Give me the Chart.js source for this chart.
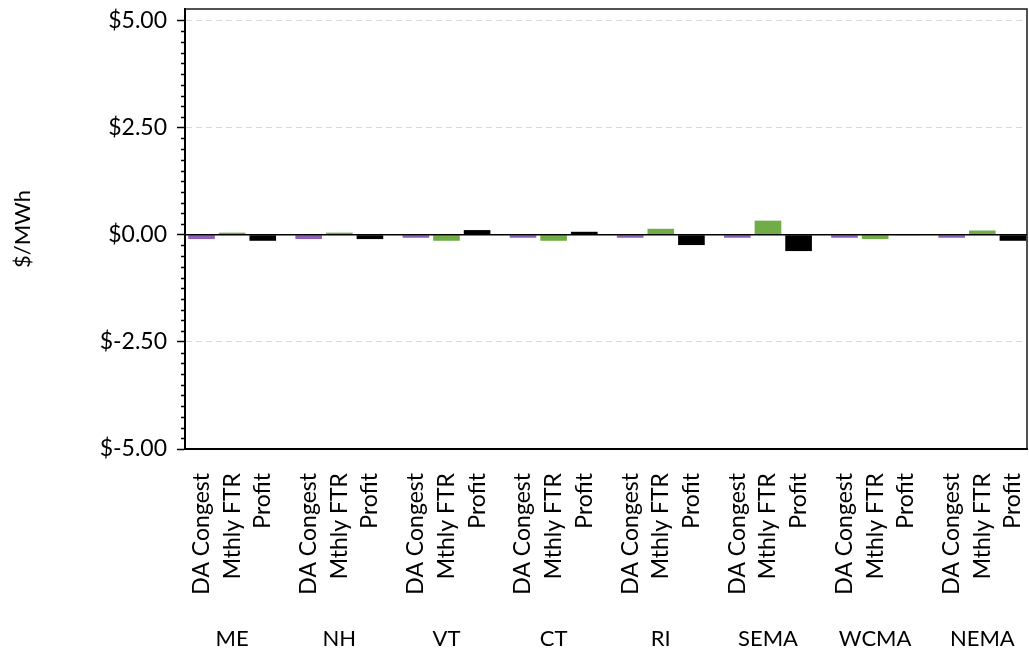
<!DOCTYPE html>
<html>
<head>
<meta charset="utf-8">
<script src="https://cdn.jsdelivr.net/npm/chart.js@4"></script>
<style>
  html, body { margin: 0; padding: 0; background: #fff; }
  #wrap { width: 1029px; height: 653px; }
</style>
</head>
<body>
<div id="wrap"><canvas id="c" width="1029" height="653"></canvas></div>
<script>
// Zones and the three measures shown for each one ($/MWh)
const zones = ['ME', 'NH', 'VT', 'CT', 'RI', 'SEMA', 'WCMA', 'NEMA'];
const measures = ['DA Congest', 'Mthly FTR', 'Profit'];
const daCongest = [-0.10, -0.10, -0.07, -0.07, -0.07, -0.07, -0.07, -0.07];
const mthlyFtr  = [ 0.05,  0.05, -0.14, -0.14,  0.14,  0.33, -0.10,  0.10];
const profit    = [-0.14, -0.10,  0.11,  0.07, -0.24, -0.38, -0.01, -0.14];
const yTicks = [-5, -2.5, 0, 2.5, 5];

const measureColors = ['#8E62B4', '#70AD47', '#000000'];
const FONT = 'Lato, "Open Sans", sans-serif';
const GROUP_STEP = 3.5;   // three bars plus a half-slot gap per zone

// Flatten zones x measures into bar points on a linear x scale
const series = [daCongest, mthlyFtr, profit];
const points = [];
const colors = [];
const barLabels = [];
zones.forEach((z, g) => {
  series.forEach((s, m) => {
    points.push({ x: g * GROUP_STEP + m, y: s[g] });
    colors.push(measureColors[m]);
    barLabels.push(measures[m]);
  });
});
const barPositions = points.map(p => p.x);
const zoneCenters = zones.map((z, g) => g * GROUP_STEP + 1);

Chart.defaults.color = '#000';
Chart.defaults.font.family = FONT;

// keep tick-label overhang from shrinking the plot area
function noOverhang(scale) {
  scale.paddingLeft = 0;
  scale.paddingRight = 0;
  scale.paddingTop = 0;
  scale.paddingBottom = 0;
}

// Plot frame, zero line and minor y ticks
const framePlugin = {
  id: 'frame',
  afterDatasetsDraw(chart) {
    const { ctx, chartArea: a, scales } = chart;
    const y = scales.y;
    ctx.save();
    // zero line
    const y0 = y.getPixelForValue(0);
    ctx.strokeStyle = '#000';
    ctx.lineWidth = 1.6;
    ctx.beginPath();
    ctx.moveTo(a.left, y0);
    ctx.lineTo(a.right, y0);
    ctx.stroke();
    // top and right edges of the frame
    ctx.lineWidth = 1.5;
    ctx.strokeStyle = '#1a1a1a';
    ctx.beginPath();
    ctx.moveTo(a.left, a.top);
    ctx.lineTo(a.right, a.top);
    ctx.lineTo(a.right, a.bottom);
    ctx.stroke();
    // minor ticks every 0.25
    ctx.strokeStyle = '#000';
    ctx.lineWidth = 1.5;
    ctx.beginPath();
    for (let i = -20; i <= 20; i++) {
      if (i % 10 === 0) continue;
      const py = Math.round(y.getPixelForValue(i * 0.25)) + 0.5;
      ctx.moveTo(a.left - 4, py);
      ctx.lineTo(a.left, py);
    }
    ctx.stroke();
    ctx.restore();
  }
};

new Chart(document.getElementById('c'), {
  type: 'bar',
  data: {
    datasets: [{
      data: points,
      backgroundColor: colors,
      borderWidth: 0,
      categoryPercentage: 1,
      barPercentage: 0.87
    }]
  },
  options: {
    responsive: false,
    animation: false,
    layout: { padding: { top: 9, right: 2, bottom: 0, left: 0 } },
    plugins: { legend: { display: false }, tooltip: { enabled: false } },
    scales: {
      x: {
        type: 'linear',
        position: 'bottom',
        offset: false,
        min: -0.54,
        max: 26.96,
        weight: 1,
        afterBuildTicks(scale) { scale.ticks = barPositions.map(v => ({ value: v })); },
        afterFit(scale) { scale.height = 150; noOverhang(scale); },
        grid: { display: false, drawTicks: false, offset: false },
        border: { display: true, color: '#000', width: 2 },
        ticks: {
          autoSkip: false,
          minRotation: 90,
          maxRotation: 90,
          padding: 24,
          font: { size: 23 },
          callback: (v, i) => barLabels[i]
        }
      },
      zone: {
        type: 'linear',
        position: 'bottom',
        offset: false,
        min: -0.54,
        max: 26.96,
        weight: 2,
        afterBuildTicks(scale) { scale.ticks = zoneCenters.map(v => ({ value: v })); },
        afterFit(scale) { scale.height = 54; noOverhang(scale); },
        grid: { display: false, drawTicks: false, offset: false },
        border: { display: false },
        ticks: {
          autoSkip: false,
          maxRotation: 0,
          padding: 27,
          font: { size: 22 },
          callback: (v, i) => zones[i]
        }
      },
      y: {
        min: -5,
        max: 5.27,
        afterBuildTicks(scale) { scale.ticks = yTicks.map(v => ({ value: v })); },
        afterFit(scale) { scale.width = 185; noOverhang(scale); },
        grid: {
          color: '#d9d9d9',
          lineWidth: 1,
          tickLength: 8,
          tickColor: '#000',
          tickWidth: 1.5,
          tickBorderDash: []
        },
        border: { display: true, color: '#000', width: 2, dash: [6, 4] },
        ticks: {
          padding: 10,
          font: { size: 23 },
          callback: v => '$' + v.toFixed(2)
        },
        title: {
          display: true,
          text: '$/MWh',
          font: { size: 22 },
          padding: { top: 10, bottom: 0 }
        }
      }
    }
  },
  plugins: [framePlugin]
});
</script>
</body>
</html>
